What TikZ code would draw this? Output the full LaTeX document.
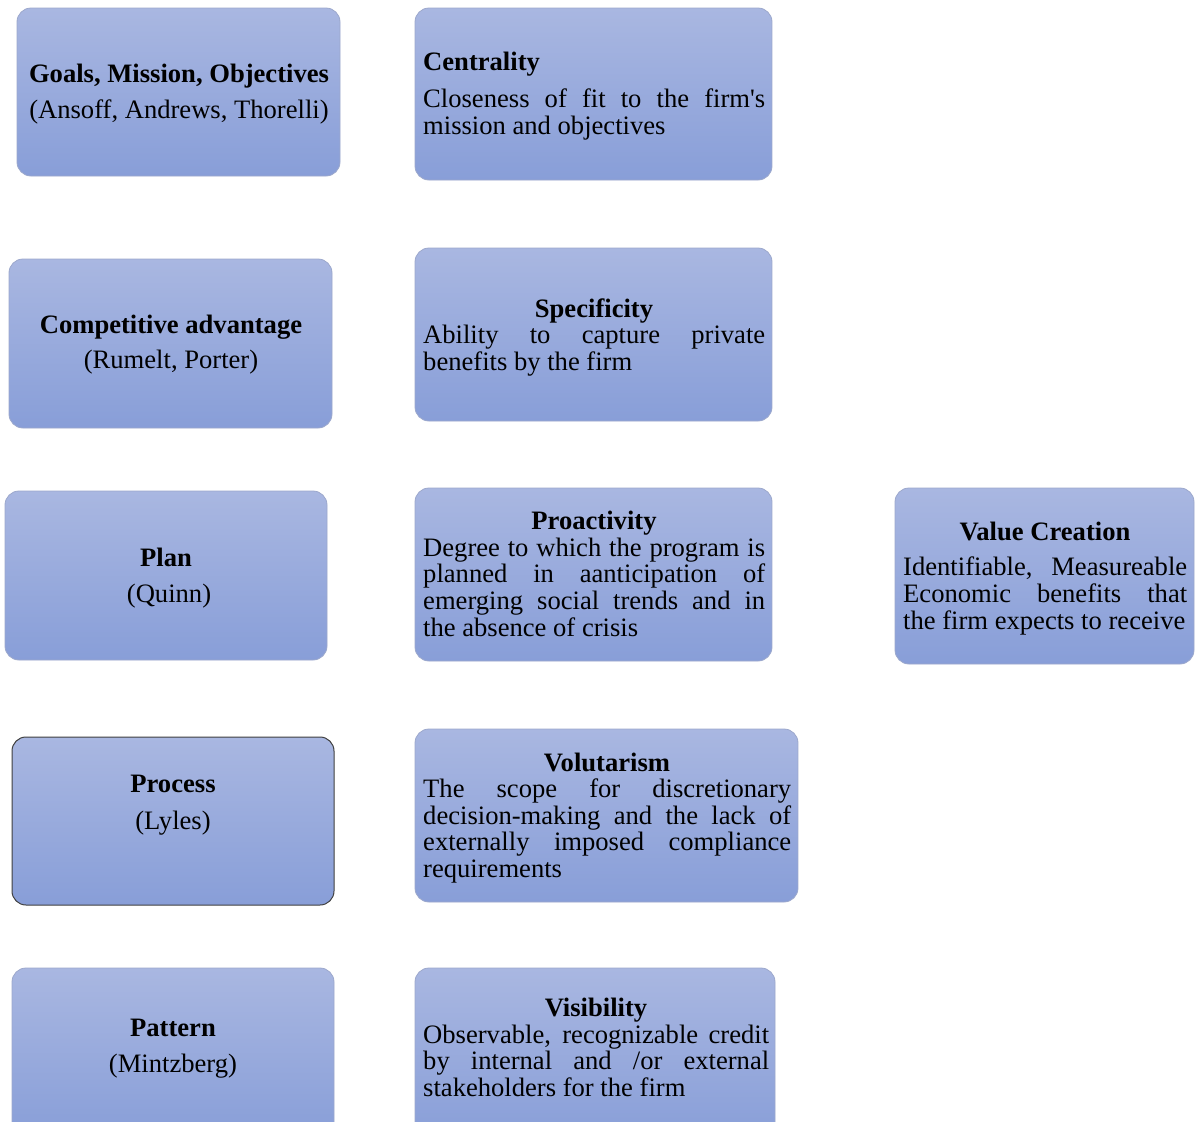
\documentclass[tikz,border=0pt]{standalone}
\usepackage{fontspec}
\newfontfamily\tnr{Liberation Serif}
\definecolor{boxtop}{HTML}{A9B7E1}
\definecolor{boxbot}{HTML}{889ED8}
\definecolor{boxline}{HTML}{9CA8CC}
\definecolor{darkline}{HTML}{404040}
\newcommand\txtsize{\fontsize{26.6}{30}\selectfont}
\begin{document}
\begin{tikzpicture}[x=1pt,y=-1pt,
  box/.style={rectangle, rounded corners=14pt, draw=boxline, line width=0.8pt,
    top color=boxtop, bottom color=boxbot, inner sep=0pt},
  darkbox/.style={box, draw=darkline, line width=1pt},
  ln/.style={anchor=base west, inner sep=0pt, font=\tnr\txtsize, text=black},
  ttl/.style={anchor=base, inner sep=0pt, font=\tnr\txtsize\bfseries, text=black},
  sub/.style={anchor=base, inner sep=0pt, font=\tnr\txtsize, text=black}]
\path[use as bounding box, fill=white] (0,0) rectangle (1203,1122);

% boxes
\node[box, minimum width=323pt, minimum height=168pt] (goals) at (178.5,92) {};
\node[box, minimum width=323pt, minimum height=169pt] (comp) at (170.5,343.5) {};
\node[box, minimum width=322pt, minimum height=169pt] (plan) at (166,575.5) {};
\node[darkbox, minimum width=322pt, minimum height=168pt] (proc) at (173,821) {};
\node[box, minimum width=322pt, minimum height=169pt] (patt) at (173,1052.5) {};
\node[box, minimum width=357pt, minimum height=172pt] (cent) at (593.5,94) {};
\node[box, minimum width=357pt, minimum height=173pt] (spec) at (593.5,334.5) {};
\node[box, minimum width=357pt, minimum height=173pt] (proa) at (593.5,574.5) {};
\node[box, minimum width=383pt, minimum height=173pt] (volu) at (606.5,815.5) {};
\node[box, minimum width=360pt, minimum height=173pt] (visi) at (595,1054.5) {};
\node[box, minimum width=299pt, minimum height=176pt] (valu) at (1044.5,576) {};

\begin{scope}[shift={(0,1.2)}]
% left column
\node[ttl] (goalsT) at (179,81) {Goals, Mission, Objectives};
\node[sub] (goalsS) at (179,117) {(Ansoff, Andrews, Thorelli)};
\node[ttl] (compT) at (171,332) {Competitive advantage};
\node[sub] (compS) at (171,367) {(Rumelt, Porter)};
\node[ttl] (planT) at (166,565) {Plan};
\node[sub] (planS) at (169,601) {(Quinn)};
\node[ttl] (procT) at (173,791) {Process};
\node[sub] (procS) at (173,828) {(Lyles)};
\node[ttl] (pattT) at (173,1035) {Pattern};
\node[sub] (pattS) at (173,1071) {(Mintzberg)};

% middle column
\node[ln, font=\tnr\txtsize\bfseries] (centT) at (423,69) {Centrality};
\node[ln] (cent1) at (423,106.5) {\makebox[342pt][s]{Closeness of fit to the firm's}};
\node[ln] (cent2) at (423,133) {mission and objectives};

\node[ttl] (specT) at (594,316) {Specificity};
\node[ln] (spec1) at (423,342.7) {\makebox[342pt][s]{Ability to capture private}};
\node[ln] (spec2) at (423,369.3) {benefits by the firm};

\node[ttl] (proaT) at (594,528) {Proactivity};
\node[ln] (proa1) at (423,555) {\makebox[342pt][s]{Degree to which the program is}};
\node[ln] (proa2) at (423,581.5) {\makebox[342pt][s]{planned in aanticipation of}};
\node[ln] (proa3) at (423,608) {\makebox[342pt][s]{emerging social trends and in}};
\node[ln] (proa4) at (423,635) {the absence of crisis};

\node[ttl] (voluT) at (607,770) {Volutarism};
\node[ln] (volu1) at (423,796.5) {\makebox[368pt][s]{The scope for discretionary}};
\node[ln] (volu2) at (423,823) {\makebox[368pt][s]{decision-making and the lack of}};
\node[ln] (volu3) at (423,849.5) {\makebox[368pt][s]{externally imposed compliance}};
\node[ln] (volu4) at (423,876) {requirements};

\node[ttl] (visiT) at (596,1015) {Visibility};
\node[ln] (visi1) at (423,1042) {\makebox[346pt][s]{Observable, recognizable credit}};
\node[ln] (visi2) at (423,1068) {\makebox[346pt][s]{by internal and /or external}};
\node[ln] (visi3) at (423,1095) {stakeholders for the firm};

% right column
\node[ttl] (valuT) at (1045,539) {Value Creation};
\node[ln] (valu1) at (903,574) {\makebox[284pt][s]{Identifiable, Measureable}};
\node[ln] (valu2) at (903,601) {\makebox[284pt][s]{Economic benefits that}};
\node[ln] (valu3) at (903,628) {the firm expects to receive};
\end{scope}
\end{tikzpicture}
\end{document}
